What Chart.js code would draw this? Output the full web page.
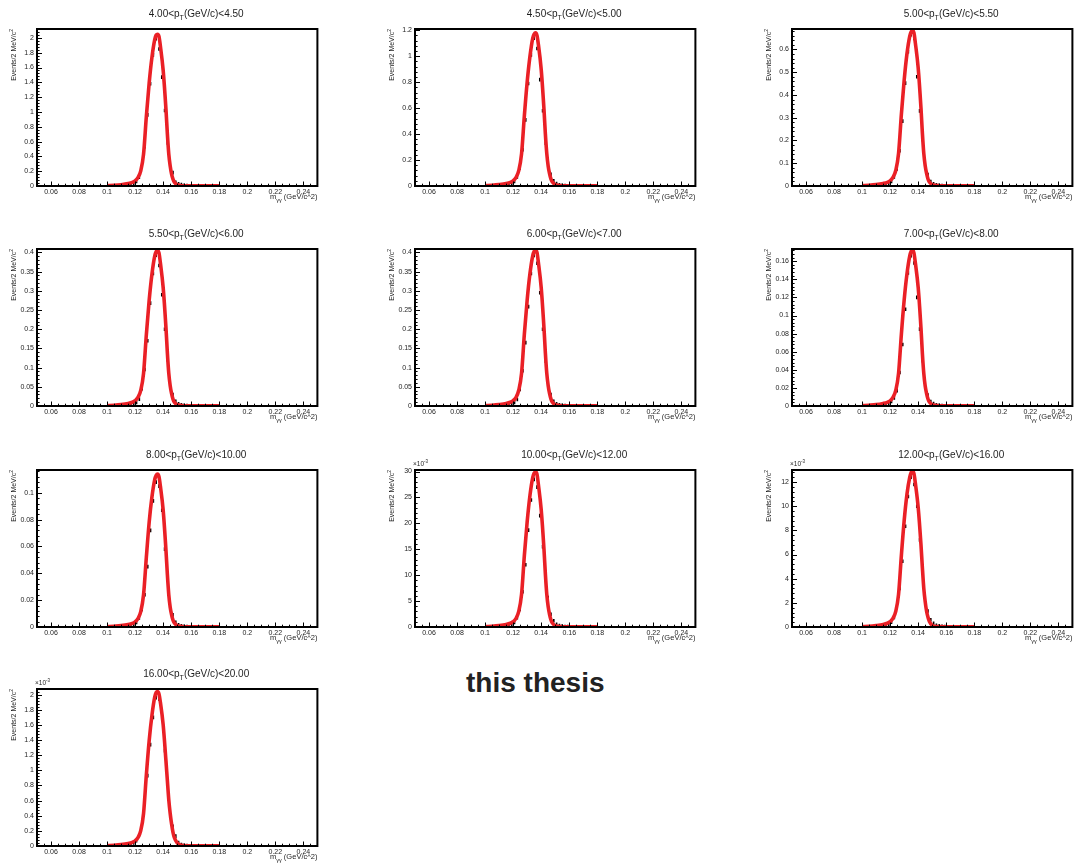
<!DOCTYPE html>
<html>
<head>
<meta charset="utf-8">
<script src="https://cdn.jsdelivr.net/npm/chart.js@4/dist/chart.umd.min.js"></script>
<style>
  html, body { margin: 0; padding: 0; background: #fff; }
  body { width: 1078px; height: 866px; position: relative; overflow: hidden; }
  canvas { position: absolute; }
  #stamp {
    position: absolute; left: 466px; top: 669px;
    font: bold 28px 'Liberation Sans', Arial, sans-serif; line-height: 28px;
    color: #222; white-space: nowrap;
  }
</style>
</head>
<body>
<div id="stamp">this thesis</div>
<script>
// pT intervals (GeV/c), one panel each
const PT_LOW  = [4.00, 4.50, 5.00, 5.50, 6.00, 7.00, 8.00, 10.00, 12.00, 16.00];
const PT_HIGH = [4.50, 5.00, 5.50, 6.00, 7.00, 8.00, 10.00, 12.00, 16.00, 20.00];

// diphoton mass axis (GeV/c^2)
const X_MIN = 0.05, X_MAX = 0.25, X_STEP = 0.02, X_MINOR = 0.005;
const X_TICKS = [0.06, 0.08, 0.10, 0.12, 0.14, 0.16, 0.18, 0.20, 0.22, 0.24];

// vertical axis per panel
const Y_MAX  = [2.12, 1.21, 0.69, 0.409, 0.409, 0.1735, 0.117, 0.0303, 0.0130, 0.002075];
const Y_STEP = [0.2, 0.2, 0.1, 0.05, 0.05, 0.02, 0.02, 0.005, 0.002, 0.0002];
const Y_EXP  = [0, 0, 0, 0, 0, 0, 0, -3, -3, -3];

// histogram bin centres (2 MeV bins)
const BIN_CENTERS = [0.111,0.113,0.115,0.117,0.119,0.121,0.123,0.125,0.127,0.129,0.131,0.133,0.135,
                     0.137,0.139,0.141,0.143,0.145,0.147,0.149,0.151,0.153,0.155,0.157,0.159,0.161];

// counts per bin
const DATA_P1  = [0.008,0.012,0.016,0.025,0.037,0.06,0.12,0.26,0.53,0.96,1.38,1.77,1.99,1.85,1.47,1.02,0.58,0.31,0.18,0.05,0.03,0.02,0.01,0.006,0.004,0.002];
const DATA_P2  = [0.005,0.007,0.009,0.014,0.021,0.035,0.07,0.14,0.28,0.51,0.79,1.01,1.14,1.06,0.82,0.58,0.33,0.18,0.09,0.04,0.018,0.009,0.006,0.004,0.002,0.001];
const DATA_P3  = [0.003,0.004,0.005,0.008,0.012,0.02,0.04,0.075,0.155,0.285,0.452,0.59,0.665,0.648,0.48,0.33,0.203,0.097,0.05,0.02,0.01,0.005,0.003,0.002,0.001,0.001];
const DATA_P4  = [0.0016,0.0024,0.0032,0.0048,0.0073,0.009,0.018,0.045,0.095,0.17,0.268,0.345,0.393,0.366,0.29,0.20,0.12,0.058,0.03,0.012,0.006,0.003,0.002,0.0012,0.0008,0.0004];
const DATA_P5  = [0.0016,0.0024,0.0032,0.0048,0.0073,0.009,0.017,0.043,0.092,0.165,0.259,0.345,0.392,0.372,0.295,0.20,0.117,0.063,0.03,0.012,0.006,0.003,0.002,0.0012,0.0008,0.0004];
const DATA_P6  = [0.0007,0.001,0.0014,0.002,0.003,0.005,0.009,0.017,0.037,0.068,0.107,0.147,0.166,0.158,0.120,0.085,0.050,0.025,0.012,0.005,0.0026,0.0014,0.0009,0.0005,0.0003,0.0002];
const DATA_P7  = [0.0005,0.0007,0.0009,0.0014,0.002,0.0034,0.0068,0.013,0.024,0.045,0.072,0.094,0.108,0.105,0.087,0.058,0.036,0.018,0.009,0.0035,0.0017,0.0009,0.0006,0.0003,0.0002,0.0001];
const DATA_P8  = [0.00012,0.00018,0.00024,0.00036,0.00054,0.0009,0.0018,0.0034,0.0068,0.0120,0.0187,0.0245,0.0285,0.0270,0.0215,0.0155,0.0103,0.0057,0.00245,0.0012,0.0005,0.0003,0.0002,0.0001,0.0001,0.00005];
const DATA_P9  = [0.00005,0.00008,0.0001,0.00015,0.00023,0.0004,0.0008,0.00173,0.00319,0.00545,0.00834,0.0108,0.0124,0.0118,0.0100,0.0072,0.0047,0.00264,0.00132,0.0006,0.0003,0.00015,0.0001,0.00005,0.00003,0.00002];
const DATA_P10 = [0.000008,0.00001,0.000015,0.000025,0.00004,0.00007,0.00014,0.00032,0.00057,0.00093,0.00134,0.00170,0.00196,0.00194,0.00168,0.00126,0.00083,0.00052,0.00026,0.00013,0.000044,0.00002,0.00001,0.000006,0.000004,0.000002];

// fit function sampled over its range 0.10 - 0.18
const CURVE_MASS = [0.100,0.105,0.110,0.115,0.118,0.120,0.122,0.124,0.126,0.128,0.130,0.132,0.134,0.135,0.136,0.137,
                    0.138,0.140,0.142,0.143,0.144,0.145,0.146,0.147,0.148,0.150,0.152,0.155,0.160,0.170,0.180];
const FIT_P1  = [0.006,0.010,0.018,0.033,0.049,0.070,0.113,0.205,0.43,0.94,1.39,1.74,1.98,2.04,2.05,2.02,1.89,1.56,1.03,0.70,0.43,0.27,0.16,0.092,0.051,0.018,0.008,0.004,0.003,0.002,0.002];
const FIT_P2  = [0.0035,0.006,0.011,0.019,0.028,0.040,0.065,0.118,0.248,0.54,0.80,1.00,1.14,1.17,1.18,1.16,1.09,0.90,0.59,0.40,0.25,0.153,0.094,0.053,0.030,0.011,0.005,0.0024,0.0018,0.0012,0.0012];
const FIT_P3  = [0.002,0.0034,0.0061,0.011,0.016,0.023,0.038,0.068,0.143,0.314,0.464,0.581,0.659,0.678,0.683,0.673,0.628,0.519,0.342,0.232,0.143,0.089,0.055,0.031,0.017,0.006,0.0027,0.0014,0.001,0.0007,0.0007];
const FIT_P4  = [0.0012,0.002,0.0036,0.0065,0.0097,0.0138,0.0223,0.0405,0.085,0.186,0.275,0.344,0.391,0.402,0.405,0.399,0.373,0.308,0.203,0.138,0.085,0.053,0.032,0.018,0.010,0.0036,0.0016,0.0008,0.0006,0.0004,0.0004];
const FIT_P5  = [0.0012,0.002,0.0037,0.0065,0.0098,0.014,0.022,0.041,0.085,0.187,0.276,0.345,0.392,0.403,0.406,0.400,0.374,0.309,0.203,0.138,0.085,0.053,0.032,0.018,0.010,0.0037,0.0016,0.0008,0.0006,0.0004,0.0004];
const FIT_P6  = [0.0005,0.0009,0.0015,0.0028,0.0041,0.0058,0.0095,0.0172,0.036,0.079,0.117,0.146,0.166,0.171,0.172,0.169,0.158,0.131,0.086,0.058,0.036,0.022,0.0138,0.0077,0.0043,0.0015,0.0007,0.0003,0.0003,0.0002,0.0002];
const FIT_P7  = [0.0003,0.0006,0.001,0.0018,0.0027,0.0039,0.0063,0.0114,0.024,0.052,0.078,0.097,0.110,0.113,0.114,0.112,0.105,0.087,0.057,0.039,0.024,0.0148,0.0091,0.0051,0.0029,0.001,0.0005,0.0002,0.0002,0.0001,0.0001];
const FIT_P8  = [0.00009,0.00015,0.00027,0.00048,0.00072,0.00102,0.00164,0.0030,0.0063,0.0138,0.0203,0.0254,0.0289,0.0297,0.0299,0.0295,0.0275,0.0227,0.0150,0.0102,0.0063,0.0039,0.0024,0.00135,0.00075,0.00027,0.00012,0.00006,0.00004,0.00003,0.00003];
const FIT_P9  = [0.00004,0.00006,0.00012,0.00021,0.00031,0.00044,0.00071,0.00129,0.0027,0.0059,0.0088,0.0110,0.0124,0.0128,0.0129,0.0127,0.0119,0.0099,0.0068,0.0049,0.0032,0.0021,0.0013,0.0008,0.00045,0.00014,0.00005,0.00003,0.00002,0.00001,0.00001];
const FIT_P10 = [0.000006,0.00001,0.000018,0.000033,0.000049,0.000069,0.000112,0.000204,0.00043,0.00094,0.00139,0.00173,0.00197,0.00203,0.00204,0.00201,0.00190,0.00160,0.00112,0.00086,0.00061,0.00043,0.00029,0.00018,0.00011,0.00004,0.000015,0.000006,0.000003,0.000002,0.000002];

const DATA = [DATA_P1, DATA_P2, DATA_P3, DATA_P4, DATA_P5, DATA_P6, DATA_P7, DATA_P8, DATA_P9, DATA_P10];
const FITS = [FIT_P1, FIT_P2, FIT_P3, FIT_P4, FIT_P5, FIT_P6, FIT_P7, FIT_P8, FIT_P9, FIT_P10];

// page geometry
const COL_X = [0, 378, 755];
const ROW_Y = [0, 220, 441, 660];
const CANVAS_W = 323, CANVAS_H = 206;
const FONT = "'Liberation Sans', Arial, Helvetica, sans-serif";
const INK = '#1e1e1e';
const FIT_RED = 'rgb(234,32,38)';

function drawRich(ctx, parts, x, y, align) {
  let w = 0;
  for (const p of parts) { ctx.font = p.size + 'px ' + FONT; w += ctx.measureText(p.t).width; }
  let cx = align === 'center' ? x - w / 2 : (align === 'right' ? x - w : x);
  ctx.textAlign = 'left';
  ctx.textBaseline = 'alphabetic';
  for (const p of parts) {
    ctx.font = p.size + 'px ' + FONT;
    ctx.fillText(p.t, cx, y + (p.dy || 0));
    cx += ctx.measureText(p.t).width;
  }
}

// frame, inward ticks and the text around each pad
const padDecor = {
  id: 'padDecor',
  afterDraw(chart) {
    const i = chart.options.plugins.padDecor.panel;
    const { ctx, chartArea: a, scales: { x, y } } = chart;
    ctx.save();
    ctx.strokeStyle = '#000';
    ctx.lineWidth = 1;
    ctx.beginPath();
    const nx = Math.round((X_MAX - X_MIN) / X_MINOR);
    for (let k = 0; k <= nx; k++) {
      const v = X_MIN + k * X_MINOR;
      const major = Math.abs(v / X_STEP - Math.round(v / X_STEP)) < 1e-6;
      const px = Math.round(x.getPixelForValue(v)) + 0.5;
      ctx.moveTo(px, a.bottom);
      ctx.lineTo(px, a.bottom - (major ? 4.5 : 2.3));
    }
    const yMinor = Y_STEP[i] / 5;
    const ny = Math.floor(Y_MAX[i] / yMinor + 1e-6);
    for (let k = 0; k <= ny; k++) {
      const py = Math.round(y.getPixelForValue(k * yMinor)) + 0.5;
      ctx.moveTo(a.left, py);
      ctx.lineTo(a.left + (k % 5 === 0 ? 5 : 2.6), py);
    }
    ctx.stroke();
    ctx.lineWidth = 2;
    ctx.strokeRect(a.left, a.top, a.right - a.left, a.bottom - a.top);

    ctx.fillStyle = INK;
    // pad title
    drawRich(ctx, [
      { t: PT_LOW[i].toFixed(2) + '<p', size: 10 },
      { t: 'T', size: 7, dy: 3 },
      { t: '(GeV/c)<' + PT_HIGH[i].toFixed(2), size: 10 }
    ], (a.left + a.right) / 2 + 19, a.top - 12, 'center');
    // x-axis title
    drawRich(ctx, [
      { t: 'm', size: 7.5 },
      { t: 'γγ', size: 5.5, dy: 3 },
      { t: ' (GeV/c^2)', size: 7.5 }
    ], a.right, a.bottom + 13, 'right');
    // y-axis title
    ctx.save();
    ctx.translate(a.left - 21.5, a.top);
    ctx.rotate(-Math.PI / 2);
    drawRich(ctx, [
      { t: 'Events/2 MeV/c', size: 7 },
      { t: '2', size: 5, dy: -3 }
    ], 0, 0, 'right');
    ctx.restore();
    // common exponent
    if (Y_EXP[i] !== 0) {
      drawRich(ctx, [
        { t: '×10', size: 6.5 },
        { t: String(Y_EXP[i]), size: 4.5, dy: -3 }
      ], a.left - 2, a.top - 4, 'left');
    }
    ctx.restore();
  }
};

function makePanel(i) {
  const canvas = document.createElement('canvas');
  canvas.width = CANVAS_W;
  canvas.height = CANVAS_H;
  canvas.style.left = COL_X[i % 3] + 'px';
  canvas.style.top = ROW_Y[Math.floor(i / 3)] + 'px';
  canvas.style.width = CANVAS_W + 'px';
  canvas.style.height = CANVAS_H + 'px';
  document.body.appendChild(canvas);

  const scaleY = Math.pow(10, -Y_EXP[i]);
  new Chart(canvas, {
    type: 'scatter',
    data: {
      datasets: [
        {
          label: 'fit',
          data: CURVE_MASS.map((m, k) => ({ x: m, y: FITS[i][k] })),
          showLine: true,
          borderColor: FIT_RED,
          borderWidth: 3.6,
          pointRadius: 0,
          cubicInterpolationMode: 'monotone',
          fill: false
        },
        {
          label: 'data',
          data: BIN_CENTERS.map((m, k) => ({ x: m, y: DATA[i][k] })),
          showLine: false,
          pointStyle: 'line',
          rotation: 90,
          pointRadius: 1.8,
          borderWidth: 1.6,
          borderColor: '#000',
          backgroundColor: '#000'
        }
      ]
    },
    options: {
      responsive: false,
      animation: false,
      events: [],
      devicePixelRatio: 1,
      layout: { padding: { top: 29, right: 3, left: 0, bottom: 0 } },
      plugins: {
        legend: { display: false },
        tooltip: { enabled: false },
        padDecor: { panel: i }
      },
      scales: {
        x: {
          type: 'linear',
          min: X_MIN, max: X_MAX,
          grid: { display: false, drawTicks: false },
          border: { display: false },
          afterBuildTicks: s => { s.ticks = X_TICKS.map(v => ({ value: v })); },
          afterFit: s => { s.height = 20; },
          ticks: {
            padding: 2, autoSkip: false, maxRotation: 0,
            color: INK, font: { size: 7, family: FONT },
            callback: v => String(+Number(v).toFixed(4))
          }
        },
        y: {
          type: 'linear',
          min: 0, max: Y_MAX[i],
          grid: { display: false, drawTicks: false },
          border: { display: false },
          afterBuildTicks: s => {
            const n = Math.floor(Y_MAX[i] / Y_STEP[i] + 1e-6);
            const t = [];
            for (let k = 0; k <= n; k++) t.push({ value: k * Y_STEP[i] });
            s.ticks = t;
          },
          afterFit: s => { s.width = 37; },
          ticks: {
            padding: 3, autoSkip: false,
            color: INK, font: { size: 7, family: FONT },
            callback: v => String(+(Number(v) * scaleY).toFixed(4))
          }
        }
      }
    },
    plugins: [padDecor]
  });
}

for (let i = 0; i < PT_LOW.length; i++) makePanel(i);
</script>
</body>
</html>
